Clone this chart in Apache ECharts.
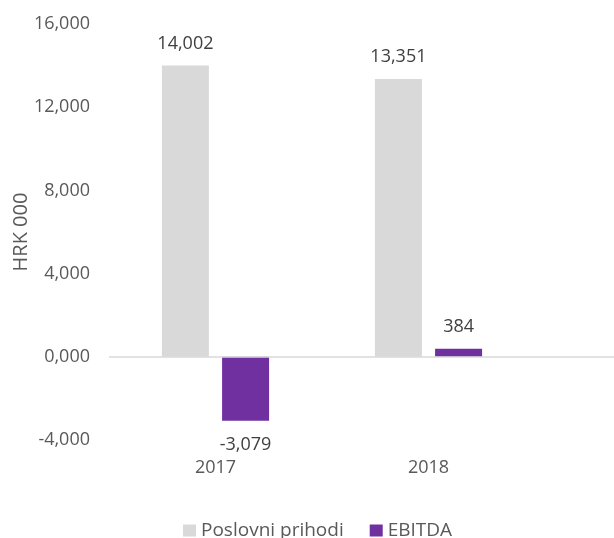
<!DOCTYPE html>
<html>
<head>
<meta charset="utf-8">
<script src="https://cdn.jsdelivr.net/npm/echarts@6/dist/echarts.min.js"></script>
<style>
  html, body { margin: 0; padding: 0; background: #fff; }
  #chart { width: 614px; height: 538px; }
</style>
</head>
<body>
<div id="chart"></div>
<script>
const categories = ["2017", "2018", ""];
const revenue = [14002, 13351];
const ebitda = [-3079, 384];
const yTickLabels = ["-4,000", "0,000", "4,000", "8,000", "12,000", "16,000"];
const yMin = -4000;
const yInterval = 4000;

const chart = echarts.init(document.getElementById("chart"));
const font = "Open Sans";

const withLabelSide = (arr) =>
  arr.map((v) => ({
    value: v,
    label: {
      position: v < 0 ? "bottom" : "top",
      distance: v < 0 ? 15 : 13,
    },
  }));

const option = {
  backgroundColor: "#fff",
  animation: false,
  textStyle: { fontFamily: font },
  legend: {
    top: 516,
    left: 178,
    itemWidth: 13,
    itemHeight: 12,
    itemGap: 26,
    icon: "rect",
    textStyle: { color: "#595959", fontSize: 19, fontFamily: font },
    data: ["Poslovni prihodi", "EBITDA"],
  },
  grid: {
    left: 109,
    top: 24,
    height: 416,
    width: 639,
    containLabel: false,
    outerBoundsMode: "none",
  },
  xAxis: {
    type: "category",
    data: categories,
    axisLine: { show: false, onZero: false },
    axisTick: { show: false },
    axisLabel: { color: "#595959", fontSize: 18, margin: 19, fontFamily: font },
  },
  yAxis: {
    type: "value",
    min: yMin,
    max: 16000,
    interval: yInterval,
    name: "HRK 000",
    nameLocation: "middle",
    nameGap: 78,
    nameMoveOverlap: false,
    nameRotate: 90,
    nameTextStyle: { color: "#595959", fontSize: 20, fontFamily: font },
    axisLine: { show: false },
    axisTick: { show: false },
    splitLine: { show: false },
    axisLabel: {
      color: "#595959",
      fontSize: 18,
      margin: 19,
      fontFamily: font,
      formatter: (v) => yTickLabels[Math.round((v - yMin) / yInterval)],
    },
  },
  series: [
    {
      name: "Poslovni prihodi",
      type: "bar",
      barWidth: 47,
      barGap: "28%",
      itemStyle: { color: "#d9d9d9" },
      label: {
        show: true,
        color: "#404040",
        fontSize: 18,
        fontFamily: font,
        formatter: (p) => p.value.toLocaleString("en-US"),
      },
      data: withLabelSide(revenue),
      markLine: {
        silent: true,
        symbol: "none",
        label: { show: false },
        lineStyle: { color: "#d9d9d9", width: 1.5, type: "solid" },
        data: [{ yAxis: 0 }],
      },
    },
    {
      name: "EBITDA",
      type: "bar",
      barWidth: 47,
      itemStyle: { color: "#7030a0" },
      label: {
        show: true,
        color: "#404040",
        fontSize: 18,
        fontFamily: font,
        formatter: (p) => p.value.toLocaleString("en-US"),
      },
      data: withLabelSide(ebitda),
    },
  ],
};

chart.setOption(option);
window.addEventListener("resize", () => chart.resize());
</script>
</body>
</html>
